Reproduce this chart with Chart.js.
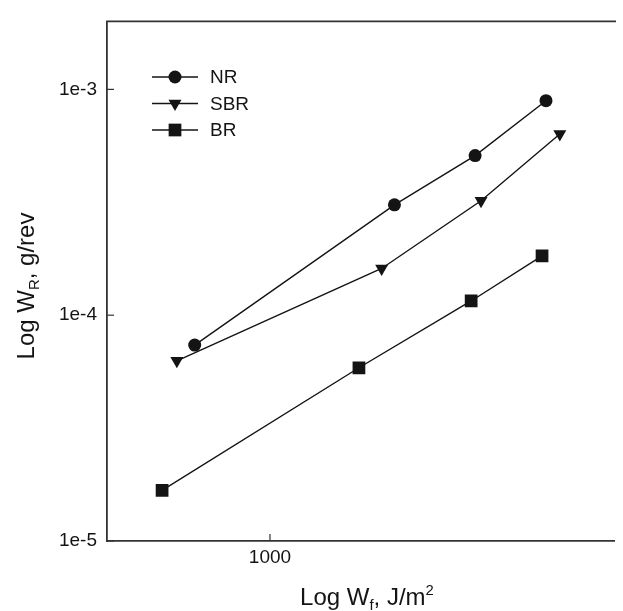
<!DOCTYPE html>
<html><head><meta charset="utf-8">
<script src="https://cdn.jsdelivr.net/npm/chart.js@4/dist/chart.umd.min.js"></script>
<style>html,body{margin:0;padding:0;background:#fff;overflow:hidden}#wrap{position:relative;width:623px;height:611px}</style>
</head><body><div id="wrap"><canvas id="c" width="623" height="611"></canvas></div>
<script>
const seriesNames = ['NR', 'SBR', 'BR'];
const nrX = [726, 1698, 2393, 3235];
const nrY = [7.37e-5, 3.08e-4, 5.09e-4, 8.91e-4];
const sbrX = [673, 1608, 2454, 3431];
const sbrY = [6.28e-5, 1.61e-4, 3.21e-4, 6.34e-4];
const brX = [632, 1460, 2353, 3181];
const brY = [1.675e-5, 5.85e-5, 1.156e-4, 1.83e-4];
const yTicks = [1e-5, 1e-4, 1e-3];
const yTickLabels = ['1e-5', '1e-4', '1e-3'];
const xTicks = [1000];
const xTickLabels = ['1000'];

const FONT = '"Liberation Sans", Arial, sans-serif';
const INK = '#141414';

function pts(xs, ys) { return xs.map((x, i) => ({ x: x, y: ys[i] })); }

const styles = [
  { pointStyle: 'circle', radius: 6.5, rotation: 0 },
  { pointStyle: 'triangle', radius: 7.5, rotation: 180 },
  { pointStyle: 'rect', radius: 9, rotation: 0 }
];
const seriesData = [pts(nrX, nrY), pts(sbrX, sbrY), pts(brX, brY)];

const datasets = seriesNames.map((n, i) => ({
  label: n,
  data: seriesData[i],
  borderColor: INK,
  backgroundColor: INK,
  borderWidth: 1.4,
  pointStyle: styles[i].pointStyle,
  pointRadius: styles[i].radius,
  pointRotation: styles[i].rotation,
  pointBackgroundColor: INK,
  pointBorderColor: INK,
  pointBorderWidth: 0,
  showLine: true,
  tension: 0
}));

function drawMarker(ctx, st, x, y) {
  if (Chart.helpers && Chart.helpers.drawPoint) {
    ctx.fillStyle = INK; ctx.strokeStyle = INK; ctx.lineWidth = 0.01;
    Chart.helpers.drawPoint(ctx, { pointStyle: st.pointStyle, radius: st.radius, rotation: st.rotation, borderWidth: 0 }, x, y);
    return;
  }
  ctx.fillStyle = INK;
  ctx.beginPath();
  if (st.pointStyle === 'circle') ctx.arc(x, y, st.radius, 0, Math.PI * 2);
  else if (st.pointStyle === 'rect') { const s = st.radius * Math.SQRT1_2; ctx.rect(x - s, y - s, 2 * s, 2 * s); }
  else { const r = st.radius; ctx.moveTo(x, y + r); ctx.lineTo(x - r * 0.866, y - r / 2); ctx.lineTo(x + r * 0.866, y - r / 2); ctx.closePath(); }
  ctx.fill();
}

function drawRich(ctx, parts, size) {
  let w = 0;
  parts.forEach(p => {
    const fs = p.sub || p.sup ? size * 0.62 : size;
    ctx.font = fs + 'px ' + FONT;
    p.w = ctx.measureText(p.t).width; p.fs = fs; w += p.w;
  });
  return w;
}
function paintRich(ctx, parts, x0, base, size) {
  let x = x0;
  parts.forEach(p => {
    ctx.font = p.fs + 'px ' + FONT;
    let dy = 0;
    if (p.sub) dy = size * 0.22;
    if (p.sup) dy = -size * 0.42;
    ctx.fillText(p.t, x, base + dy);
    x += p.w;
  });
}

const extras = {
  id: 'extras',
  afterDraw(chart) {
    const ctx = chart.ctx;
    const a = chart.chartArea;
    const xs = chart.scales.x, ys = chart.scales.y;
    ctx.save();
    // top border
    ctx.strokeStyle = '#333'; ctx.lineWidth = 1.8;
    ctx.beginPath(); ctx.moveTo(a.left - 0.9, a.top); ctx.lineTo(a.right + 2, a.top); ctx.stroke();
    // inward ticks
    ctx.lineWidth = 1.2; ctx.strokeStyle = '#333';
    ys.ticks.forEach(t => { const y = ys.getPixelForValue(t.value); ctx.beginPath(); ctx.moveTo(a.left, y); ctx.lineTo(a.left + 7, y); ctx.stroke(); });
    xs.ticks.forEach(t => { const x = xs.getPixelForValue(t.value); ctx.beginPath(); ctx.moveTo(x, a.bottom); ctx.lineTo(x, a.bottom - 7); ctx.stroke(); });
    // legend
    chart.data.datasets.forEach((ds, i) => {
      const y = 77 + i * 26.5;
      ctx.strokeStyle = INK; ctx.lineWidth = 1.4;
      ctx.beginPath(); ctx.moveTo(152, y); ctx.lineTo(198, y); ctx.stroke();
      drawMarker(ctx, styles[i], 175, y);
      ctx.fillStyle = INK; ctx.font = '19px ' + FONT; ctx.textBaseline = 'middle'; ctx.textAlign = 'left';
      ctx.fillText(ds.label, 210, y + 1);
    });
    // axis titles
    ctx.fillStyle = INK; ctx.textBaseline = 'alphabetic'; ctx.textAlign = 'left';
    const size = 24;
    const xt = [{ t: 'Log W' }, { t: 'f', sub: true }, { t: ', J/m' }, { t: '2', sup: true }];
    const wx = drawRich(ctx, xt, size);
    paintRich(ctx, xt, 367 - wx / 2, 605, size);
    const yt = [{ t: 'Log W' }, { t: 'R', sub: true }, { t: ', g/rev' }];
    const wy = drawRich(ctx, yt, size);
    ctx.translate(34, 286);
    ctx.rotate(-Math.PI / 2);
    paintRich(ctx, yt, -wy / 2, 0, size);
    ctx.restore();
  }
};

new Chart(document.getElementById('c'), {
  type: 'scatter',
  data: { datasets: datasets },
  options: {
    responsive: false,
    animation: false,
    devicePixelRatio: 1,
    layout: { padding: { top: 13, left: 0, right: 1, bottom: 0 } },
    plugins: { legend: { display: false }, tooltip: { enabled: false }, title: { display: false } },
    scales: {
      x: {
        type: 'logarithmic', position: 'bottom', min: 500, max: 4320,
        afterBuildTicks: s => { s.ticks = xTicks.map(v => ({ value: v })); },
        afterFit: s => { s.height = 70; },
        ticks: { autoSkip: false, maxRotation: 0, padding: 5, color: INK, font: { family: FONT, size: 19 },
          callback: v => { const k = xTicks.indexOf(v); return k >= 0 ? xTickLabels[k] : ''; } },
        grid: { display: true, drawOnChartArea: false, drawTicks: false },
        border: { display: true, color: '#333', width: 1.8 }
      },
      y: {
        type: 'logarithmic', position: 'left', min: 1e-5, max: 2e-3,
        afterBuildTicks: s => { s.ticks = yTicks.map(v => ({ value: v })); },
        afterFit: s => { s.width = 107; },
        ticks: { autoSkip: false, padding: 10, color: INK, font: { family: FONT, size: 19 },
          callback: v => { const k = yTicks.indexOf(v); return k >= 0 ? yTickLabels[k] : ''; } },
        grid: { display: true, drawOnChartArea: false, drawTicks: false },
        border: { display: true, color: '#333', width: 1.8 }
      }
    }
  },
  plugins: [extras]
});
</script></body></html>
